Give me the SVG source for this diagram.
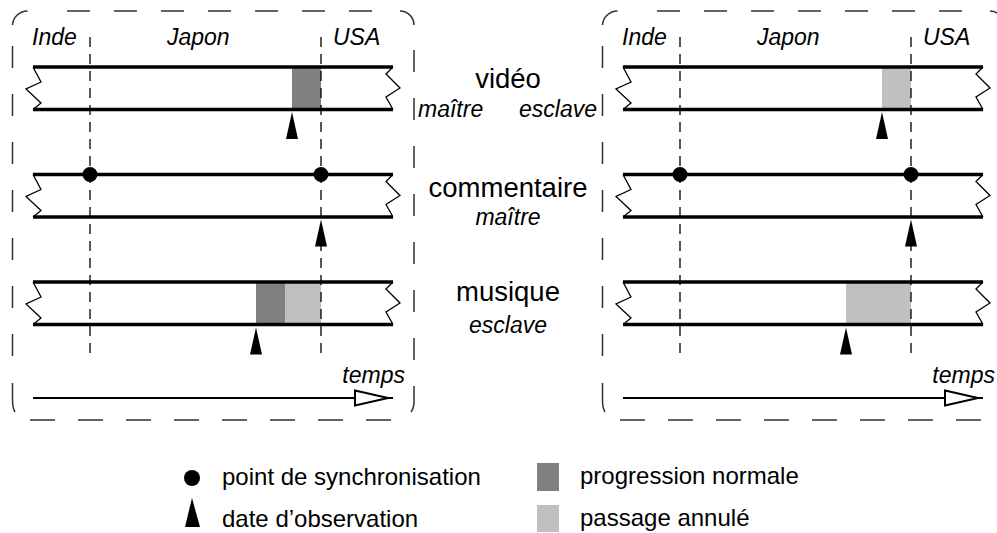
<svg xmlns="http://www.w3.org/2000/svg" xmlns:xlink="http://www.w3.org/1999/xlink" width="997" height="533" viewBox="0 0 997 533">
<style>
.frame{fill:none;stroke:#333;stroke-width:1.5}
.tape{stroke:#000;stroke-width:3.6;fill:none}
.zig{stroke:#000;stroke-width:1.3;fill:none;stroke-linejoin:miter}
.vdash{stroke:#000;stroke-width:1.3;stroke-dasharray:10 7;fill:none}
.dark{fill:#808080}
.light{fill:#c0c0c0}
.it{font-family:"Liberation Sans",Arial,sans-serif;font-style:italic;font-size:23px;fill:#000}
.title{font-family:"Liberation Sans",Arial,sans-serif;font-size:27.5px;fill:#000;text-anchor:middle}
.leg{font-family:"Liberation Sans",Arial,sans-serif;font-size:24px;fill:#000}
</style>
<defs>
<g id="tapeShape">
<line class="tape" x1="33" y1="0" x2="393" y2="0"/>
<line class="tape" x1="33" y1="42.5" x2="393" y2="42.5"/>
<path class="zig" d="M33,0 L41,15 L26,22 L41,36 L33,42.5"/>
<path class="zig" d="M393,0 L386,7 L400,21 L386,30 L393,42.5"/>
</g>
<g id="frameShape">
<path class="frame" d="M12.5,25 A15,15 0 0 1 27.5,11"/>
<line class="frame" x1="67" y1="11" x2="375" y2="11" stroke-dasharray="23 24"/>
<path class="frame" d="M400,11 A14,14 0 0 1 414,25"/>
<line class="frame" x1="12.5" y1="46" x2="12.5" y2="380" stroke-dasharray="22 26"/>
<path class="frame" d="M12.5,383 L12.5,400 Q12.5,408 15,412"/>
<line class="frame" x1="30" y1="420" x2="392" y2="420" stroke-dasharray="25 23"/>
<line class="frame" x1="414" y1="50" x2="414" y2="384" stroke-dasharray="22 26"/>
<path class="frame" d="M414,386 L414,402 Q414,408 411,412"/>
</g>
<g id="obs"><polygon points="0,0 -6,27 6,27" fill="#000"/></g>
<g id="timeAxis">
<line x1="33" y1="398" x2="393" y2="398" stroke="#000" stroke-width="2"/>
<polygon points="355,390.5 388,398 355,405.5" fill="#fff" stroke="#000" stroke-width="2"/>
</g>
</defs>

<g id="panel-left">
<use xlink:href="#frameShape"/>
<text class="it" x="32" y="45">Inde</text>
<text class="it" x="167" y="45">Japon</text>
<text class="it" x="333" y="45">USA</text>
<g id="left-video">
<rect class="dark" x="292" y="67" width="29" height="42.5"/>
<use xlink:href="#tapeShape" transform="translate(0,67)"/>
</g>
<g id="left-commentaire">
<use xlink:href="#tapeShape" transform="translate(0,174.5)"/>
</g>
<g id="left-musique">
<rect class="dark" x="256" y="282" width="29" height="42.5"/>
<rect class="light" x="285" y="282" width="36" height="42.5"/>
<use xlink:href="#tapeShape" transform="translate(0,282)"/>
</g>
<line class="vdash" x1="90" y1="37" x2="90" y2="356"/>
<line class="vdash" x1="321" y1="37" x2="321" y2="356"/>
<circle cx="90" cy="174.5" r="7.5" fill="#000"/>
<circle cx="321" cy="174.5" r="7.5" fill="#000"/>
<use xlink:href="#obs" transform="translate(292,112)"/>
<use xlink:href="#obs" transform="translate(321,219.5)"/>
<use xlink:href="#obs" transform="translate(256,327.5)"/>
<use xlink:href="#timeAxis"/>
<text class="it" x="405" y="383" text-anchor="end">temps</text>
</g>

<g id="panel-right">
<use xlink:href="#frameShape" transform="translate(590,0)"/>
<text class="it" x="622" y="45">Inde</text>
<text class="it" x="757" y="45">Japon</text>
<text class="it" x="923" y="45">USA</text>
<g id="right-video">
<rect class="light" x="882" y="67" width="29" height="42.5"/>
<use xlink:href="#tapeShape" transform="translate(590,67)"/>
</g>
<g id="right-commentaire">
<use xlink:href="#tapeShape" transform="translate(590,174.5)"/>
</g>
<g id="right-musique">
<rect class="light" x="846" y="282" width="65" height="42.5"/>
<use xlink:href="#tapeShape" transform="translate(590,282)"/>
</g>
<line class="vdash" x1="680" y1="37" x2="680" y2="356"/>
<line class="vdash" x1="911" y1="37" x2="911" y2="356"/>
<circle cx="680" cy="174.5" r="7.5" fill="#000"/>
<circle cx="911" cy="174.5" r="7.5" fill="#000"/>
<use xlink:href="#obs" transform="translate(882,112)"/>
<use xlink:href="#obs" transform="translate(911,219.5)"/>
<use xlink:href="#obs" transform="translate(846,327.5)"/>
<use xlink:href="#timeAxis" transform="translate(590,0)"/>
<text class="it" x="995" y="383" text-anchor="end">temps</text>
</g>

<g id="track-labels">
<text class="title" x="508" y="88">vidéo</text>
<text class="it" x="418" y="117">maître</text>
<text class="it" x="597" y="117" text-anchor="end">esclave</text>
<text class="title" x="508" y="197">commentaire</text>
<text class="it" x="508" y="225" text-anchor="middle">maître</text>
<text class="title" x="508" y="301">musique</text>
<text class="it" x="508" y="333" text-anchor="middle">esclave</text>
</g>

<g id="legend">
<circle cx="192" cy="478" r="8" fill="#000"/>
<text class="leg" x="222" y="485">point de synchronisation</text>
<polygon points="192,498 185,527 200,527" fill="#000"/>
<text class="leg" x="222" y="527">date d’observation</text>
<rect class="dark" x="537" y="463" width="22" height="28"/>
<text class="leg" x="580" y="484">progression normale</text>
<rect class="light" x="537" y="505" width="22" height="27"/>
<text class="leg" x="580" y="526">passage annulé</text>
</g>
</svg>
